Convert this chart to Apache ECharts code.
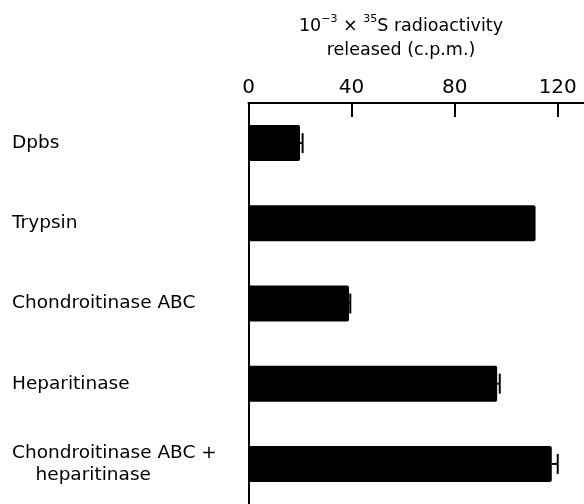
<!DOCTYPE html>
<html>
<head>
<meta charset="utf-8">
<script src="https://cdn.jsdelivr.net/npm/echarts@6/dist/echarts.min.js"></script>
<style>
    html, body { margin: 0; padding: 0; background: #fff; }
    #main { width: 584px; height: 504px; }
</style>
</head>
<body>
<div id="main"></div>
<script>
var treatments = ['Dpbs', 'Trypsin', 'Chondroitinase ABC', 'Heparitinase', 'Chondroitinase ABC +\n    heparitinase'];
var releasedCpm = [20, 111.4, 39, 96.5, 117.7];
var releasedErr = [1, 0, 0.5, 1, 2.3];
var tickValues = [0, 40, 80, 120];

var fontName = '"DejaVu Sans", sans-serif';

// error bar data: [value, category index, error]
var errData = [];
for (var i = 0; i < releasedCpm.length; i++) {
    errData.push([releasedCpm[i], i, releasedErr[i]]);
}

var myChart = echarts.init(document.getElementById('main'), null, {renderer: 'canvas'});
var option = {
    backgroundColor: '#fff',
    animation: false,
    title: {
        text: '{n|10}{sup|−3}{n| × }{sup|35}{n|S radioactivity}\n{n|released (c.p.m.)}',
        left: 396,
        top: 9,
        textAlign: 'center',
        textStyle: {
            fontWeight: 'normal',
            rich: {
                n: {fontFamily: fontName, fontSize: 17.5, fontWeight: 'normal', color: '#000', lineHeight: 24},
                sup: {fontFamily: fontName, fontSize: 11, fontWeight: 'normal', color: '#000', verticalAlign: 'top', lineHeight: 24}
            }
        }
    },
    grid: {
        left: 248.5,
        right: 0.5,
        top: 103,
        bottom: -0.5
    },
    xAxis: {
        type: 'value',
        position: 'top',
        min: 0,
        max: 130,
        interval: 40,
        splitLine: {show: false},
        axisLine: {show: true, lineStyle: {color: '#000', width: 2}},
        axisTick: {show: true, inside: true, length: 14, lineStyle: {color: '#000', width: 2}, customValues: tickValues},
        axisLabel: {
            color: '#000',
            fontFamily: fontName,
            fontSize: 20,
            margin: 5,
            customValues: tickValues
        }
    },
    yAxis: {
        type: 'category',
        inverse: true,
        data: treatments,
        axisLine: {show: true, lineStyle: {color: '#000', width: 2}},
        axisTick: {show: false},
        axisLabel: {
            color: '#000',
            fontFamily: fontName,
            fontSize: 18.5,
            align: 'left',
            margin: 236.5,
            lineHeight: 22
        }
    },
    series: [
        {
            name: 'released',
            type: 'bar',
            data: releasedCpm,
            barWidth: 36,
            itemStyle: {color: '#000', borderRadius: 2}
        },
        {
            name: 'error',
            type: 'custom',
            data: errData,
            encode: {x: 0, y: 1},
            z: 3,
            renderItem: function (params, api) {
                var val = api.value(0);
                var idx = api.value(1);
                var err = api.value(2);
                if (!err) {
                    return null;
                }
                var start = api.coord([val, idx]);
                var end = api.coord([val + err, idx]);
                var capHalf = 10;
                return {
                    type: 'group',
                    children: [
                        {
                            type: 'line',
                            shape: {x1: start[0], y1: start[1], x2: end[0], y2: end[1]},
                            style: {stroke: '#000', lineWidth: 2}
                        },
                        {
                            type: 'line',
                            shape: {x1: end[0], y1: end[1] - capHalf, x2: end[0], y2: end[1] + capHalf},
                            style: {stroke: '#000', lineWidth: 2}
                        }
                    ]
                };
            }
        }
    ]
};
myChart.setOption(option, true);
</script>
</body>
</html>
